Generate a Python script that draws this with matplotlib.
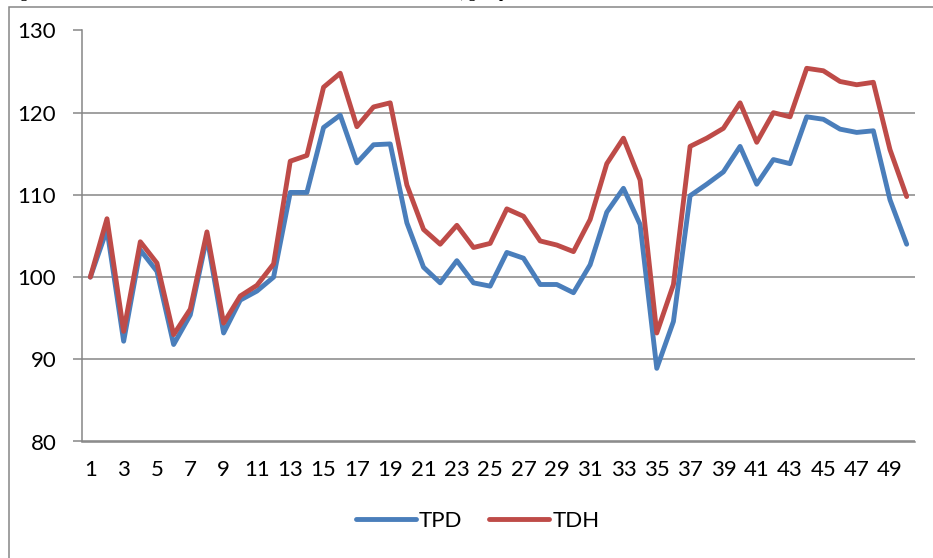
import matplotlib
matplotlib.use("Agg")
import matplotlib.pyplot as plt
from matplotlib.patches import Rectangle

# values
periods = list(range(1, 51))
tpd = [100.0, 105.8, 92.2, 103.3, 100.7, 91.8, 95.4, 104.9, 93.2, 97.2,
       98.3, 100.0, 110.3, 110.3, 118.2, 119.7, 113.9, 116.1, 116.2, 106.6,
       101.2, 99.3, 102.0, 99.3, 98.9, 103.0, 102.3, 99.1, 99.1, 98.1,
       101.5, 107.9, 110.8, 106.4, 88.9, 94.6, 109.9, 111.3, 112.8, 115.9,
       111.3, 114.3, 113.8, 119.5, 119.2, 118.0, 117.6, 117.8, 109.4, 104.0]
tdh = [100.0, 107.1, 93.4, 104.3, 101.7, 93.0, 96.1, 105.5, 94.4, 97.7,
       99.0, 101.6, 114.1, 114.8, 123.1, 124.8, 118.3, 120.7, 121.2, 111.2,
       105.8, 104.0, 106.3, 103.6, 104.1, 108.3, 107.4, 104.4, 103.9, 103.1,
       107.0, 113.8, 116.9, 111.8, 93.2, 99.1, 115.9, 116.9, 118.1, 121.2,
       116.4, 120.0, 119.5, 125.4, 125.1, 123.8, 123.4, 123.7, 115.5, 109.8]
xtick_labels = [str(i) for i in range(1, 51, 2)]

grey = "#868686"
plt.rcParams["font.family"] = ["Lato", "DejaVu Sans"]

fig = plt.figure(figsize=(9.33, 5.58), dpi=100)
ax = fig.add_axes([82 / 933, (558 - 441.5) / 558, 833 / 933, 411 / 558])

ax.plot(periods, tpd, color="#4A7EBB", lw=3.5, label="TPD",
        solid_joinstyle="round", solid_capstyle="round")
ax.plot(periods, tdh, color="#BE4B48", lw=3.5, label="TDH",
        solid_joinstyle="round", solid_capstyle="round")

ax.set_xlim(0.5, 50.5)
ax.set_ylim(80, 130)
ax.set_yticks(range(80, 131, 10))
ax.set_xticks(range(1, 51, 2))
ax.set_xticklabels(xtick_labels)
ax.grid(axis="y", color=grey, lw=1.1)
ax.set_axisbelow(True)

for s in ["top", "right"]:
    ax.spines[s].set_visible(False)
for s in ["left", "bottom"]:
    ax.spines[s].set_color(grey)
    ax.spines[s].set_linewidth(1.1)

ax.tick_params(axis="y", length=6.5, width=1.1, color=grey, pad=12, labelsize=16)
ax.tick_params(axis="x", length=0, pad=13, labelsize=16)

ax.legend(loc="upper center", bbox_to_anchor=(0.475, -0.12), ncol=2, frameon=False,
          fontsize=16, handlelength=2.7, handletextpad=0.15, columnspacing=1.2)

# outer chart frame and the cut-off caption above it
fig.patches.append(Rectangle((8.5 / 933, -0.1), 2, (558 - 7) / 558 + 0.1,
                             transform=fig.transFigure, fill=False,
                             edgecolor=grey, lw=1.1))
fig.text(7 / 933, 1 + 2 / 558,
         "Figure 3. Trends of the TPD and TDH indices of all the selected banks, group 1",
         family="Liberation Serif", weight="bold", fontsize=11, va="baseline")

fig.savefig("out.png", dpi=100)
